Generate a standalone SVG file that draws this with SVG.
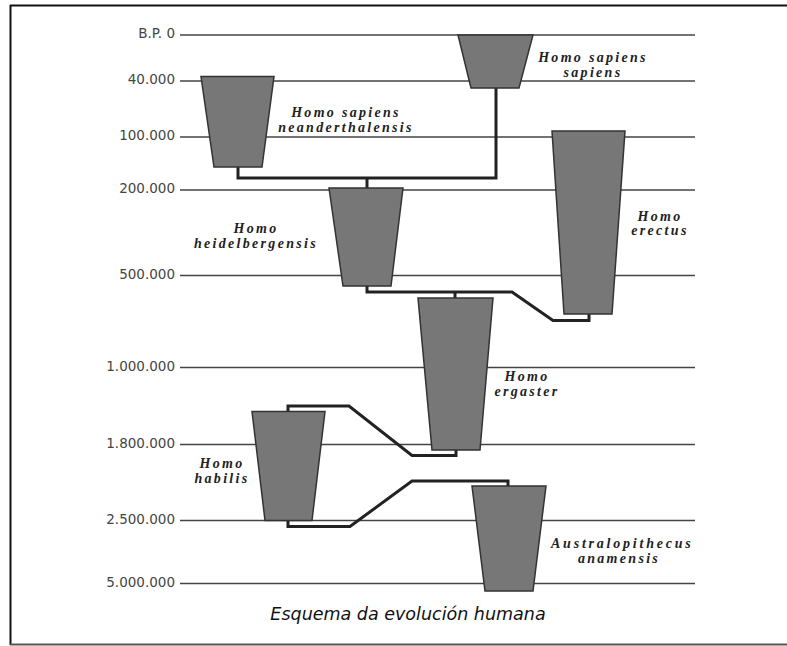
<svg xmlns="http://www.w3.org/2000/svg" width="787" height="646" viewBox="0 0 787 646">
<style>
.frame{stroke:#111;stroke-width:2;fill:none}
.tl{stroke:#444;stroke-width:1.5}
.tlab{font-family:"DejaVu Sans",sans-serif;font-size:13.5px;fill:#444;text-anchor:end}
.tz{fill:#777;stroke:#333;stroke-width:1.5;stroke-linejoin:miter}
.con{fill:none;stroke:#222;stroke-width:3;stroke-linejoin:miter}
.lab{font-family:"Liberation Serif",serif;font-weight:bold;font-style:italic;font-size:14px;letter-spacing:2.3px;fill:#222;text-anchor:middle}
.cap{font-family:"DejaVu Sans",sans-serif;font-style:italic;font-size:17.5px;fill:#111;text-anchor:middle}
</style>
<rect width="787" height="646" fill="#fff"/>
<g id="frame">
<line class="frame" x1="10" y1="5.5" x2="787" y2="5.5"/>
<line class="frame" x1="10.5" y1="5" x2="10.5" y2="645"/>
<line x1="10" y1="644.5" x2="787" y2="644.5" stroke="#555" stroke-width="2"/>
</g>
<g id="timeline">
<line class="tl" x1="180" y1="35" x2="695" y2="35"/>
<line class="tl" x1="180" y1="81" x2="695" y2="81"/>
<line class="tl" x1="180" y1="137" x2="695" y2="137"/>
<line class="tl" x1="180" y1="190" x2="695" y2="190"/>
<line class="tl" x1="180" y1="275.5" x2="695" y2="275.5"/>
<line class="tl" x1="180" y1="367.5" x2="695" y2="367.5"/>
<line class="tl" x1="180" y1="444.5" x2="695" y2="444.5"/>
<line class="tl" x1="180" y1="520.5" x2="695" y2="520.5"/>
<line class="tl" x1="180" y1="583.5" x2="695" y2="583.5"/>
<text class="tlab" x="175" y="38">B.P. 0</text>
<text class="tlab" x="175" y="84">40.000</text>
<text class="tlab" x="175" y="140">100.000</text>
<text class="tlab" x="175" y="193">200.000</text>
<text class="tlab" x="175" y="279">500.000</text>
<text class="tlab" x="175" y="371">1.000.000</text>
<text class="tlab" x="175" y="448">1.800.000</text>
<text class="tlab" x="175" y="524">2.500.000</text>
<text class="tlab" x="175" y="587">5.000.000</text>
</g>
<g id="connectors">
<polyline class="con" points="238,167 238,178 496,178 496,88"/>
<line class="con" x1="367" y1="178" x2="367" y2="188"/>
<polyline class="con" points="367,286 367,292 512,292 553,320.5 589,320.5 589,314"/>
<line class="con" x1="455" y1="292" x2="455" y2="298"/>
<polyline class="con" points="288,412 288,406 349,406 412,455.5 456,455.5 456,450"/>
<polyline class="con" points="288,520 288,526.5 350,526.5 412,481 508,481 508,486"/>
</g>
<g id="neanderthalensis">
<polygon class="tz" points="201,76.5 274,76.5 262,167 214,167"/>
<text class="lab" x="346" y="117">Homo sapiens</text>
<text class="lab" x="346" y="132">neanderthalensis</text>
</g>
<g id="sapiens">
<polygon class="tz" points="458,35 533,35 519,88 471,88"/>
<text class="lab" x="593" y="62">Homo sapiens</text>
<text class="lab" x="593" y="77">sapiens</text>
</g>
<g id="heidelbergensis">
<polygon class="tz" points="329,188 403,188 391,286 343,286"/>
<text class="lab" x="256" y="233">Homo</text>
<text class="lab" x="256" y="248">heidelbergensis</text>
</g>
<g id="erectus">
<polygon class="tz" points="552,131 625,131 612,314 564,314"/>
<text class="lab" x="660" y="221">Homo</text>
<text class="lab" x="660" y="235">erectus</text>
</g>
<g id="ergaster">
<polygon class="tz" points="418,298 493,298 480,450 432,450"/>
<text class="lab" x="527" y="381">Homo</text>
<text class="lab" x="527" y="396">ergaster</text>
</g>
<g id="habilis">
<polygon class="tz" points="252,411.5 325,411.5 312,520.5 265,520.5"/>
<text class="lab" x="222" y="468">Homo</text>
<text class="lab" x="222" y="483">habilis</text>
</g>
<g id="australopithecus">
<polygon class="tz" points="472,486 546,486 533,591 485,591"/>
<text class="lab" x="622" y="548" textLength="142" lengthAdjust="spacing">Australopithecus</text>
<text class="lab" x="619" y="563">anamensis</text>
</g>
<text class="cap" x="408" y="620">Esquema da evolución humana</text>
</svg>
